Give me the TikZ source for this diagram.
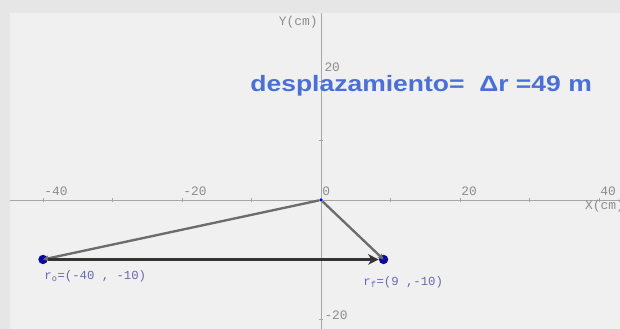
\documentclass[tikz,border=0pt]{standalone}
\usepackage{fontspec}
\setmainfont{Liberation Sans}
\newfontfamily\axisfont{Liberation Mono}
\usepackage{xcolor}
\usetikzlibrary{arrows.meta}
\definecolor{outergray}{HTML}{E6E6E6}
\definecolor{panelgray}{HTML}{F0F0F0}
\definecolor{ticktext}{HTML}{8C8C8C}
\definecolor{labelblue}{HTML}{6868B4}
\definecolor{titleblue}{HTML}{4A70D8}
\definecolor{pointblue}{HTML}{0A0AA0}
\tikzset{
  axisline/.style={draw=gray!70, line width=0.8pt},
  ticklabel/.style={font=\axisfont\fontsize{11}{12}\selectfont, text=ticktext, inner sep=1pt},
  vector/.style={draw=gray!85!black, line width=2pt, -{Stealth[length=5pt,width=5pt]}},
  dispvec/.style={draw=black!80, line width=2.4pt, -{Stealth[length=9pt,width=9pt]}},
  endpoint/.style={circle, fill=pointblue, inner sep=0pt, minimum size=8pt},
  ptlabel/.style={font=\axisfont\fontsize{10.5}{12}\selectfont, text=labelblue, anchor=north west}
}
\begin{document}
\begin{tikzpicture}[x=0.2085cm,y=0.1785cm]
    \useasboundingbox (-46.19,-21.68) rectangle (43.02,33.61);
    \fill[outergray] (-46.19,-21.68) rectangle (43.02,33.61);
    \fill[panelgray] (-44.75,-21.68) rectangle (43.02,31.4);
    % axes
    \draw[axisline] (-44.75,0) -- (43.02,0);
    \draw[axisline] (0,-21.68) -- (0,31.4);
    \foreach \x in {-40,-30,...,40}
      \draw[gray!70] (\x,-0.4) -- (\x,0.4);
    \foreach \y in {-20,-10,10,20}
      \draw[gray!70] (-0.35,\y) -- (0.35,\y);
    \foreach \x in {-40,-20,0,20,40}
      \node[ticklabel, anchor=south west] (tx\x) at (\x,0.5) {\x};
    \node[ticklabel, anchor=south west] (ty20) at (0.3,21.3) {20};
    \node[ticklabel, anchor=south west] (tyn20) at (0.3,-20.3) {-20};
    \node[ticklabel, anchor=north east] (ylab) at (-0.3,31.1) {Y(cm)};
    \node[ticklabel, anchor=north west] (xlab) at (37.8,0.2) {X(cm)};
    % points
    \node[circle, fill=blue, inner sep=0pt, minimum size=3pt] (O) at (0,0) {};
    \node[endpoint] (r0) at (-40,-10) {};
    \node[endpoint] (rf) at (9,-10) {};
    % vectors
    \draw[vector] (O) -- (r0.center);
    \draw[vector] (O) -- (rf.center);
    \draw[dispvec] (r0) -- (rf.west);
    % labels
    \node[ptlabel] (lr0) at (-40.4,-11.2) {r\textsubscript{o}=(-40 , -10)};
    \node[ptlabel] (lrf) at (5.5,-12.2) {r\textsubscript{f}=(9 ,-10)};
    \node[font=\bfseries\fontsize{19}{22}\selectfont, text=titleblue] (titulo) at (14.4,19.2)
      {\scalebox{1.19}[1]{desplazamiento=\ \ Δr =49 m}};
\end{tikzpicture}
\end{document}
